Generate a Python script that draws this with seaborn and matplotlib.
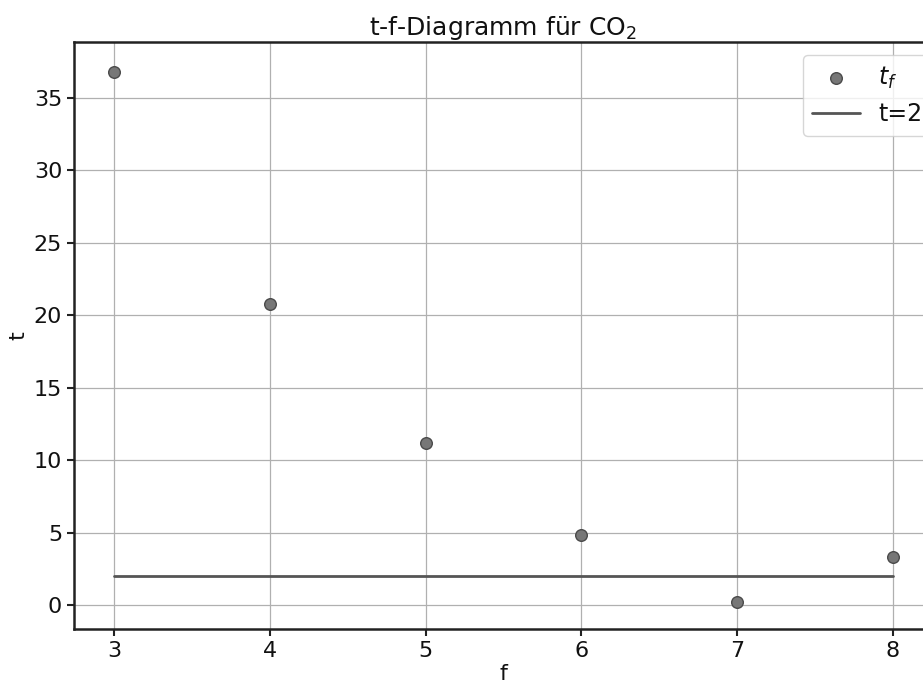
import seaborn as sns
from matplotlib import pyplot as plt
import pandas as pd

f_values = [3, 4, 5, 6, 7, 8]
t_values = [36.8, 20.8, 11.2, 4.8, 0.2, 3.3]
t_limit = [2, 2]
f_limit = [3, 8]

sns.set_style("ticks")
plt.rcParams['font.family'] = ['DejaVu Sans']
plt.rcParams['text.color'] = '#111111'
plt.rcParams['axes.labelcolor'] = '#111111'

df = pd.DataFrame({"f": f_values, "t": t_values})
df_limit = pd.DataFrame({"f": f_limit, "t": t_limit})

fig = plt.figure(figsize=(9.23, 6.86), dpi=100)
ax = fig.add_axes([74 / 923, 1 - 629 / 686, (932 - 74) / 923, (629 - 42) / 686])

sns.scatterplot(data=df, x="f", y="t", ax=ax, color="#777777", edgecolor="#4a4a4a",
                linewidth=1, s=70, label="$t_f$", zorder=3)
sns.lineplot(data=df_limit, x="f", y="t", ax=ax, color="#555555", linewidth=2,
             label="t=2", zorder=2)

ax.grid(True, color="#b0b0b0", linestyle="-", linewidth=0.9)
ax.set_xlim(2.743, 8.25)
ax.set_ylim(-1.66, 38.86)
ax.set_xticks(f_values)
ax.set_yticks([0, 5, 10, 15, 20, 25, 30, 35])
ax.tick_params(labelsize=16, width=1.5, length=5, color="#222222", labelcolor="#111111")
for s in ax.spines.values():
    s.set_linewidth(1.8)
    s.set_color("#222222")
ax.set_xlabel("f", fontsize=16, labelpad=2)
ax.set_ylabel("t", fontsize=16)
ax.set_title("t-f-Diagramm für CO$_2$", fontsize=18, pad=4)
ax.legend(loc="upper right", fontsize=17, frameon=True, borderaxespad=0,
          bbox_to_anchor=(1.0, 0.978))

fig.savefig("out.png", dpi=100)
